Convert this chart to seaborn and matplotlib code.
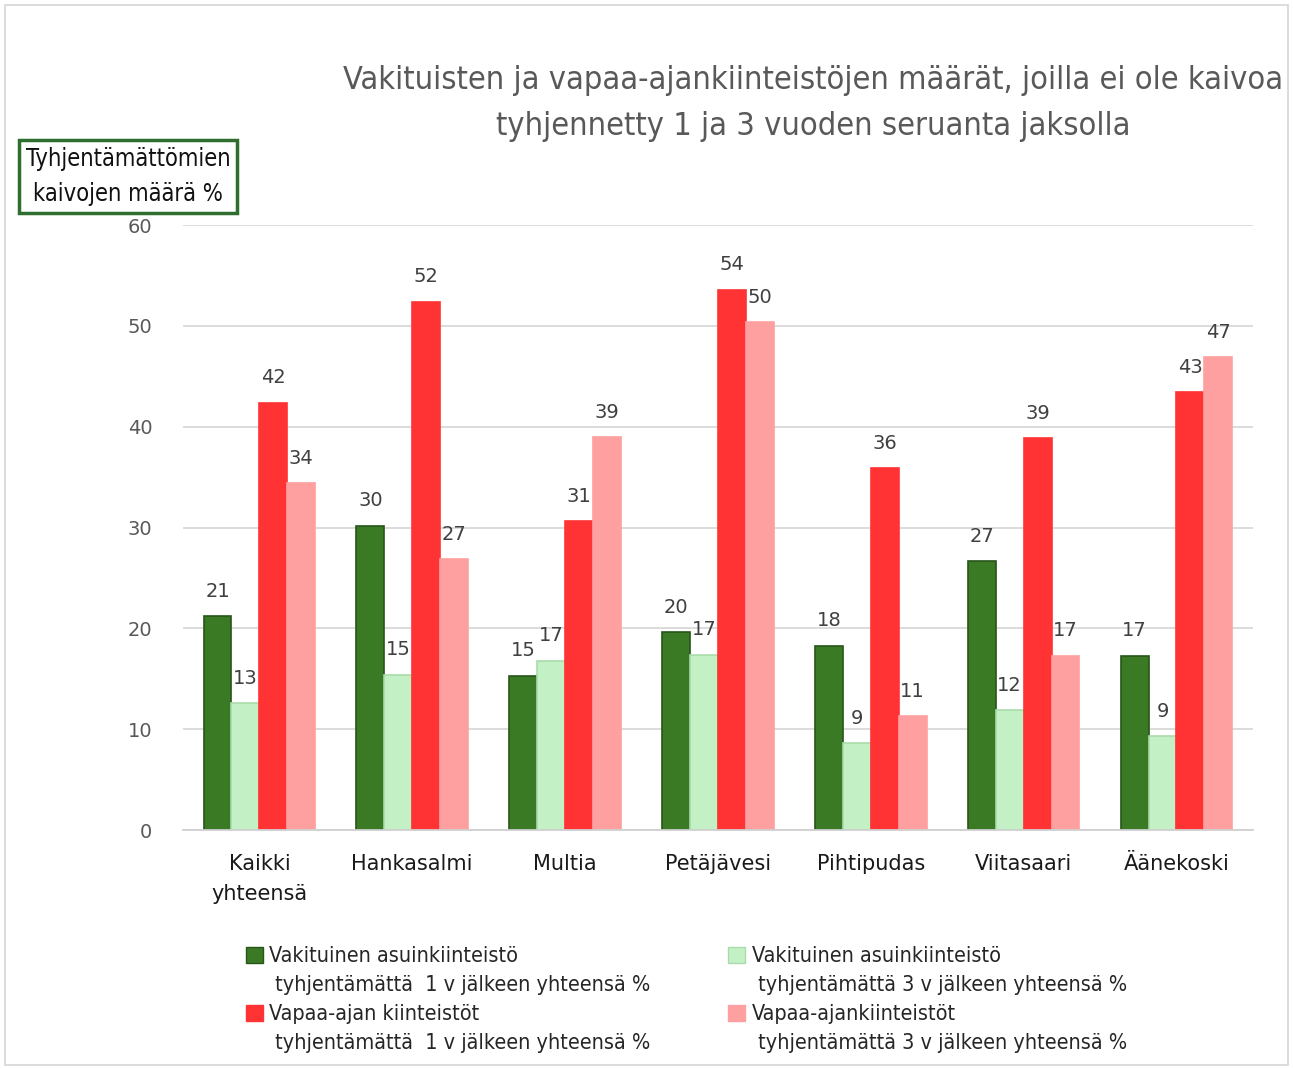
import numpy as np
import pandas as pd
import seaborn as sns
import matplotlib.pyplot as plt
from matplotlib.patches import Patch, Rectangle

kunnat = ["Kaikki\nyhteensä", "Hankasalmi", "Multia", "Petäjävesi",
          "Pihtipudas", "Viitasaari", "Äänekoski"]
vakituinen_1v = [21.2, 30.2, 15.3, 19.6, 18.3, 26.7, 17.3]
vakituinen_3v = [12.6, 15.4, 16.8, 17.4, 8.6, 11.9, 9.3]
vapaa_1v = [42.4, 52.4, 30.6, 53.6, 35.9, 38.9, 43.4]
vapaa_3v = [34.4, 26.9, 39.0, 50.4, 11.3, 17.3, 46.9]

sarjat = [
    "Vakituinen asuinkiinteistö\ntyhjentämättä  1 v jälkeen yhteensä %",
    "Vakituinen asuinkiinteistö\ntyhjentämättä 3 v jälkeen yhteensä %",
    "Vapaa-ajan kiinteistöt\ntyhjentämättä  1 v jälkeen yhteensä %",
    "Vapaa-ajankiinteistöt\ntyhjentämättä 3 v jälkeen yhteensä %",
]
arvot = [vakituinen_1v, vakituinen_3v, vapaa_1v, vapaa_3v]
colors = ["#3b7a24", "#c4f0c6", "#ff3333", "#ffa0a0"]
edges = ["#28551a", "#a9dcaa", "#ff3333", "#ffa0a0"]

df = pd.DataFrame({
    "kunta": np.repeat([kunnat], 4, axis=0).ravel(),
    "sarja": np.repeat(sarjat, len(kunnat)),
    "arvo": np.concatenate(arvot),
})

sns.set_style("white")
plt.rcParams["font.family"] = ["DejaVu Sans"]

fig = plt.figure(figsize=(12.93, 10.68), dpi=100)
ax = fig.add_axes([0.1415, 0.2228, 0.8275, 0.5665])

sns.barplot(data=df, x="kunta", y="arvo", hue="sarja", hue_order=sarjat,
            palette=colors, width=0.73, gap=0, ax=ax, legend=False,
            errorbar=None, saturation=1)

for cont, ec in zip(ax.containers, edges):
    for bar in cont:
        bar.set_edgecolor(ec)
        bar.set_linewidth(1.2)
    ax.bar_label(cont, fmt="%.0f", padding=11, fontsize=14, color="#404040")

ax.set_ylim(0, 60)
ax.set_xlim(-0.5, 6.5)
ax.set_yticks(range(0, 61, 10))
ax.yaxis.grid(True, color="#d9d9d9", linewidth=1.3)
ax.set_axisbelow(True)
for s in ["left", "right", "top"]:
    ax.spines[s].set_visible(False)
ax.spines["bottom"].set_color("#d0d0d0")
ax.spines["bottom"].set_linewidth(1.3)
ax.tick_params(axis="y", length=0, pad=22, labelsize=14, labelcolor="#595959")
ax.tick_params(axis="x", length=0, pad=17, labelsize=15, labelcolor="#1a1a1a")
for t in ax.get_xticklabels():
    t.set_linespacing(1.62)
ax.set_xlabel("")
ax.set_ylabel("")

fig.text(0.629, 0.903,
         "Vakituisten ja vapaa-ajankiinteistöjen määrät, joilla ei ole kaivoa\n"
         "tyhjennetty 1 ja 3 vuoden seruanta jaksolla",
         ha="center", va="center", fontsize=23.3, color="#595959",
         linespacing=1.62, fontstretch="condensed")

fig.text(0.099, 0.8347, "Tyhjentämättömien\nkaivojen määrä %",
         ha="center", va="center", fontsize=17, color="#111111",
         linespacing=1.55, fontstretch="condensed",
         bbox=dict(boxstyle="square,pad=0.3", fc="white",
                   ec="#2e6e2e", lw=2.5))

# one legend row per text line, so the marker sits by the first line
blank = Patch(facecolor="none", edgecolor="none")
handles, labels = [], []
for i in [0, 2, 1, 3]:
    first, second = sarjat[i].split("\n")
    handles += [Patch(facecolor=colors[i], edgecolor=edges[i]), blank]
    labels += [first, " " + second]
leg = fig.legend(handles, labels, loc="upper left",
                 bbox_to_anchor=(0.19, 0.114), ncol=2, frameon=False,
                 fontsize=15.5, handlelength=0.8, handleheight=0.8,
                 handletextpad=0.3, columnspacing=3.6, labelspacing=0.42,
                 borderaxespad=0, borderpad=0)
for t in leg.get_texts():
    t.set_fontstretch("condensed")

fig.patches.append(Rectangle((0.004, 0.003), 0.992, 0.992,
                             transform=fig.transFigure, fill=False,
                             ec="#d9d9d9", lw=1.3))

fig.savefig("out.png", dpi=100)
